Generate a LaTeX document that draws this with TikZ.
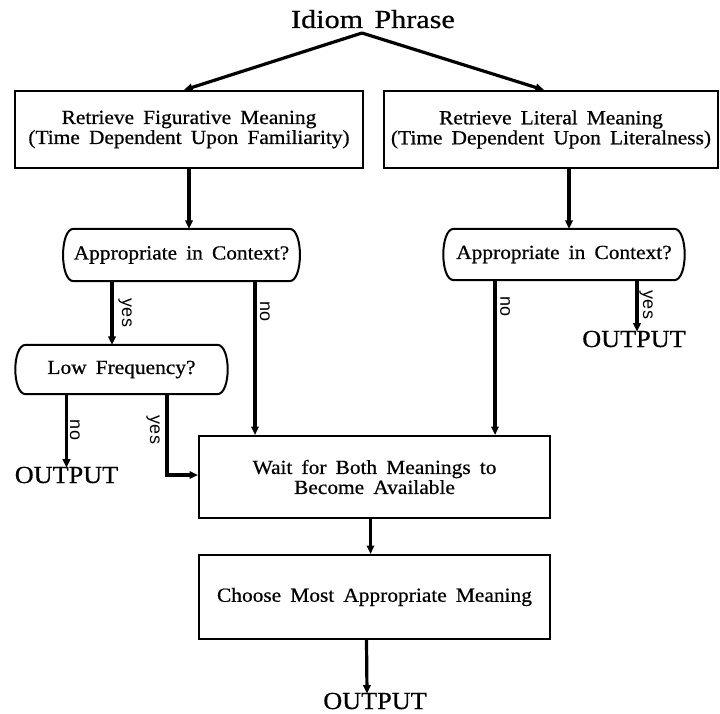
\documentclass[tikz,border=0pt]{standalone}
\usepackage{fontspec}
\setmainfont{Liberation Serif}[FakeStretch=1.07, WordSpace=1.7, FakeBold=0.6]
\newfontfamily\titlefont{Liberation Serif}[FakeStretch=1.16, WordSpace=1.5, FakeBold=0.6]
\setsansfont{Liberation Sans}
\usetikzlibrary{arrows.meta}
\begin{document}
\begin{tikzpicture}[x=1pt,y=-1pt,
  box/.style={draw, line width=2pt, align=center, inner sep=0pt, font=\fontsize{20}{20}\selectfont},
  oval/.style={inner sep=0pt, font=\fontsize{20}{20}\selectfont},
  ovalline/.style={line width=2pt},
  arr/.style={-{Triangle[length=8.5pt,width=7.5pt]}, line width=3.2pt},
  lab/.style={font=\sffamily\fontsize{18}{18}\selectfont, rotate=-90, inner sep=0pt},
  outtxt/.style={font=\fontsize{24.5}{25}\selectfont, inner sep=0pt, anchor=base}]
\useasboundingbox (0,0) rectangle (720,714);

\node[font=\titlefont\fontsize{26}{26}\selectfont, anchor=base, inner sep=0pt] (title) at (373,28) {Idiom Phrase};
\coordinate (apex) at (362,33);

\node[box, minimum width=348pt, minimum height=77pt] (fig) at (189,129.5)
  {Retrieve Figurative Meaning\\(Time Dependent Upon Familiarity)};
\node[box, minimum width=334pt, minimum height=77pt] (lit) at (551,129.5)
  {Retrieve Literal Meaning\\(Time Dependent Upon Literalness)};

\draw[arr] (apex) -- ([xshift=-5pt]fig.north);
\draw[arr] (apex) -- ([xshift=-7pt]lit.north);

\node[oval, minimum width=211pt, minimum height=52pt] (ao1) at (181.5,255) {Appropriate in Context?};
\node[oval, minimum width=220pt, minimum height=51pt] (ao2) at (564,254.5) {Appropriate in Context?};
\node[oval, minimum width=191pt, minimum height=49pt] (lf) at (121.5,369.5) {Low Frequency?};
\foreach \n in {ao1,ao2,lf}{
  \draw[ovalline] (\n.north west) -- (\n.north east)
    .. controls +(14,0) and +(14,0) .. (\n.south east) -- (\n.south west)
    .. controls +(-14,0) and +(-14,0) .. (\n.north west) -- cycle;
}

\draw[arr] (fig.south) -- (fig.south |- ao1.north);
\draw[arr] ([xshift=5pt]ao2.north |- lit.south) -- ([xshift=5pt]ao2.north);

\node[box, minimum width=351pt, minimum height=82pt] (wait) at (374.5,477)
  {Wait for Both Meanings to\\Become Available};
\node[box, minimum width=351pt, minimum height=84pt] (choose) at (374.5,597)
  {Choose Most Appropriate Meaning};

\node[outtxt] (out1) at (66.5,483) {OUTPUT};
\node[outtxt] (out2) at (634,347) {OUTPUT};
\node[outtxt] (out3) at (375,709) {OUTPUT};

% left oval branches
\draw[arr] ([xshift=-9.5pt]lf.north |- ao1.south) -- ([xshift=-9.5pt]lf.north);
\node[lab] (ly1) at (125,313) {yes};
\draw[arr] ([xshift=-119.5pt]wait.north |- ao1.south) -- ([xshift=-119.5pt]wait.north);
\node[lab] (ln1) at (265,312) {no};

% right oval branches
\draw[arr] ([xshift=120.5pt]wait.north |- ao2.south) -- ([xshift=120.5pt]wait.north);
\node[lab] (ln2) at (505,307) {no};
\draw[arr] ([xshift=3pt]out2.north |- ao2.south) -- ([xshift=3pt,yshift=-1pt]out2.north);
\node[lab] (ly2) at (646,305) {yes};

% low frequency branches
\draw[arr] (out1.north |- lf.south) -- ([yshift=-1pt]out1.north);
\node[lab] (ln3) at (75,430) {no};
\draw[arr] ([xshift=45.5pt]lf.south) |- ([yshift=2pt]wait.west);
\node[lab] (ly3) at (153,430) {yes};

% bottom chain
\draw[arr] ([xshift=-4pt]wait.south) -- ([xshift=-4pt]choose.north);
\draw[arr] ([xshift=-8pt]choose.south) -- ([xshift=-8pt,yshift=-1pt]out3.north);
\end{tikzpicture}
\end{document}
